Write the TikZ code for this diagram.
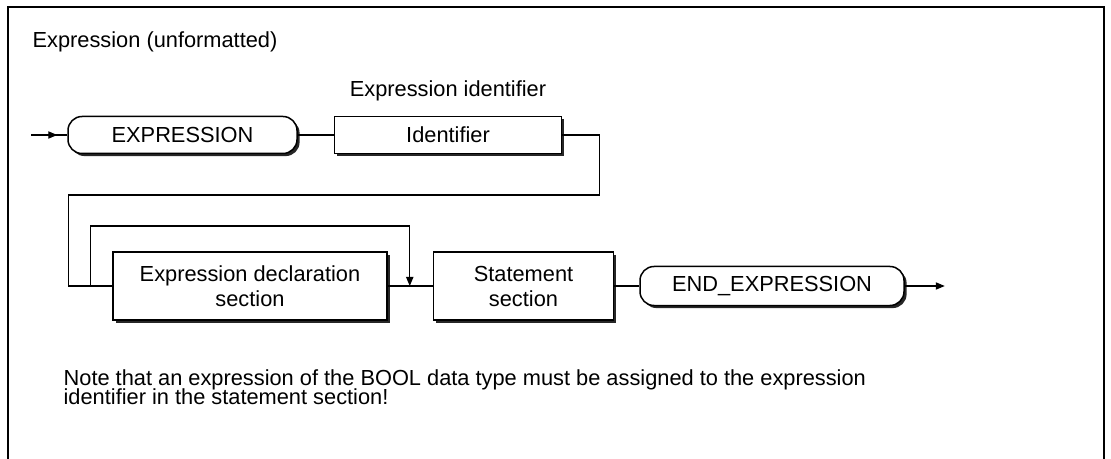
\documentclass[tikz,border=0pt]{standalone}
\usepackage{fontspec}
\setmainfont{Liberation Sans}
\usetikzlibrary{arrows.meta,positioning,shadows}
\newcommand{\twolines}[2]{\vbox{\baselineskip=9.5pt\lineskiplimit=-20pt\hbox{#1}\hbox{#2}}}

\begin{document}
\begin{tikzpicture}[
  x=0.5pt, y=-0.5pt,
  font=\fontsize{10.9}{12.5}\selectfont,
  line width=0.65pt,
  >={Triangle[length=4.5pt,width=3.6pt]},
  boxshadow/.style={drop shadow={shadow xshift=1.3pt, shadow yshift=-1.3pt, opacity=0.85, fill=black}},
  box/.style={draw, fill=white, boxshadow, line width=0.75pt, align=center, minimum height=18.5pt, inner sep=0pt},
  term/.style={box, rounded corners=7pt},
  txt/.style={anchor=base west, inner sep=0pt}
]
\useasboundingbox (0,0) rectangle (1111,459);
\draw[line width=1pt] (8,459) -- (8,7) -- (1104,7) -- (1104,459);

\node[txt] (title) at (32,48) {Expression (unformatted)};

\node[term, minimum width=114.5pt] (expr) at (182.5,135) {EXPRESSION};
\node[box, minimum width=113.5pt, right=18pt of expr] (ident) {Identifier};
\node[above=9.75pt of ident, anchor=base, inner sep=0pt] (idtitle) {Expression identifier};

\node[box, minimum width=137pt, minimum height=34pt] (decl) at (250,286) {Expression declaration\\section};
\node[box, minimum width=90pt, minimum height=34pt, right=22.5pt of decl] (stmt) {Statement\\section};
\node[term, minimum width=132pt, minimum height=19.5pt, right=12.5pt of stmt] (endexpr) {END\_EXPRESSION};

\coordinate[left=18pt of expr] (in);
\coordinate[right=20pt of endexpr] (out);

% connectors
\draw (in) -- (expr.west);
\draw[->] (in) -- ++(26,0);
\draw (expr) -- (ident);
\draw (ident.east) -| ++(37,60) -| ([xshift=-22pt]decl.west) -- (decl.west);
\draw[->] ([xshift=-11pt]decl.west) -- ++(0,-60) -| ([xshift=11pt]decl.east);
\draw (decl) -- (stmt);
\draw (stmt) -- (endexpr);
\draw[->] (endexpr) -- (out);

% note, base = last line
\node[txt] (remark) at (63,404)
  {\twolines{Note that an expression of the BOOL data type must be assigned to the expression}{identifier in the statement section!}};
\end{tikzpicture}
\end{document}
